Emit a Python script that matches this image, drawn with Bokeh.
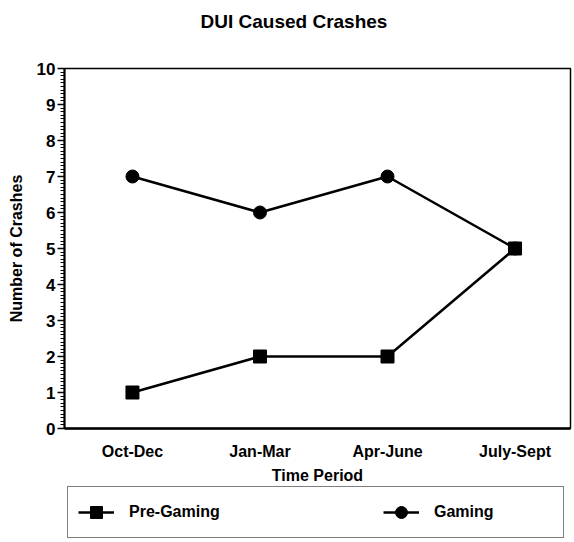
from bokeh.plotting import figure
from bokeh.layouts import column
from bokeh.models import Range1d, FixedTicker, SingleIntervalTicker, Legend, LegendItem
from bokeh.embed import file_html
from bokeh.resources import INLINE

# ---- data ----
periods = ["Oct-Dec", "Jan-Mar", "Apr-June", "July-Sept"]
pre_gaming = [1, 2, 2, 5]
gaming = [7, 6, 7, 5]
title_text = "DUI Caused Crashes"
x_title = "Time Period"
y_title = "Number of Crashes"
series_names = ["Pre-Gaming", "Gaming"]

x = list(range(len(periods)))
FONT = "Liberation Sans"

# ---- title strip ----
hd = figure(width=574, height=58, output_backend="svg", toolbar_location=None,
            title=title_text, x_range=Range1d(0, 1), y_range=Range1d(0, 1),
            x_axis_location=None, y_axis_location=None,
            min_border_left=64, min_border_right=4, min_border_top=0,
            min_border_bottom=0, outline_line_color=None,
            background_fill_color="white", border_fill_color="white")
hd.xgrid.visible = False
hd.ygrid.visible = False
hd.title.align = "left"
hd.title.offset = 136
hd.title.standoff = 16
hd.title.text_font = FONT
hd.title.text_font_style = "bold"
hd.title.text_font_size = "19px"
hd.title.text_color = "black"

# ---- main chart ----
p = figure(width=574, height=428, output_backend="svg", toolbar_location=None,
           title=None, x_range=Range1d(-0.533, 3.435), y_range=Range1d(0, 10),
           min_border_left=64, min_border_right=4, min_border_top=10,
           min_border_bottom=57, background_fill_color="white",
           border_fill_color="white")

p.xgrid.visible = False
p.ygrid.visible = False
p.outline_line_color = "black"
p.outline_line_width = 1.5

# y axis
ya = p.yaxis[0]
ya.ticker = SingleIntervalTicker(interval=1, num_minor_ticks=10)
ya.axis_line_width = 2
ya.axis_line_color = "black"
ya.major_tick_in = 0
ya.major_tick_out = 7
ya.major_tick_line_width = 1.5
ya.minor_tick_in = 0
ya.minor_tick_out = 4
ya.minor_tick_line_width = 1.2
ya.major_label_standoff = 2
ya.major_label_text_font = FONT
ya.major_label_text_font_style = "bold"
ya.major_label_text_font_size = "17px"
ya.major_label_text_color = "black"
ya.axis_label = y_title
ya.axis_label_standoff = 9
ya.axis_label_text_font = FONT
ya.axis_label_text_font_style = "bold"
ya.axis_label_text_font_size = "16px"
ya.axis_label_text_color = "black"

# x axis
xa = p.xaxis[0]
xa.ticker = FixedTicker(ticks=x)
xa.major_label_overrides = {i: name for i, name in zip(x, periods)}
xa.axis_line_width = 2.5
xa.axis_line_color = "black"
xa.major_tick_line_color = None
xa.minor_tick_line_color = None
xa.major_tick_in = 0
xa.major_tick_out = 0
xa.major_label_standoff = 14
xa.major_label_text_font = FONT
xa.major_label_text_font_style = "bold"
xa.major_label_text_font_size = "16px"
xa.major_label_text_color = "black"
xa.axis_label = x_title
xa.axis_label_standoff = 4
xa.axis_label_text_font = FONT
xa.axis_label_text_font_style = "bold"
xa.axis_label_text_font_size = "16px"
xa.axis_label_text_color = "black"

# series
line_kw = dict(line_color="black", line_width=2.5)
sq_kw = dict(marker="square", fill_color="black", line_color="black")
ci_kw = dict(marker="circle", fill_color="black", line_color="black")
l1 = p.line(x, pre_gaming, **line_kw)
s1 = p.scatter(x, pre_gaming, size=13, **sq_kw)
l2 = p.line(x, gaming, **line_kw)
s2 = p.scatter(x, gaming, size=13, **ci_kw)

# ---- legend strip below the chart: same series, ranges chosen so only the keys show ----
lg = figure(width=574, height=56, output_backend="svg", toolbar_location=None,
            x_range=Range1d(-20, -19), y_range=Range1d(-20, -19),
            x_axis_location=None, y_axis_location=None,
            min_border_left=0, min_border_right=0, min_border_top=0,
            min_border_bottom=0, outline_line_color=None,
            background_fill_color="white", border_fill_color="white")
lg.xgrid.visible = False
lg.ygrid.visible = False
kl1 = lg.line(x, pre_gaming, **line_kw)
ks1 = lg.scatter(x, pre_gaming, size=13, **sq_kw)
kl2 = lg.line(x, gaming, **line_kw)
ks2 = lg.scatter(x, gaming, size=13, **ci_kw)

legend = Legend(items=[LegendItem(label=series_names[0], renderers=[kl1, ks1]),
                       LegendItem(label=series_names[1], renderers=[kl2, ks2])],
                orientation="horizontal", location=(3, 4),
                glyph_width=36, glyph_height=30, label_standoff=15,
                label_width=119, spacing=135, padding=10, margin=0,
                border_line_color="black", border_line_width=1.5,
                label_text_font=FONT, label_text_font_style="bold",
                label_text_font_size="16px", label_text_color="black")
lg.add_layout(legend)

layout = column(hd, p, lg, spacing=0)
open("out.html", "w").write(file_html(layout, INLINE))
